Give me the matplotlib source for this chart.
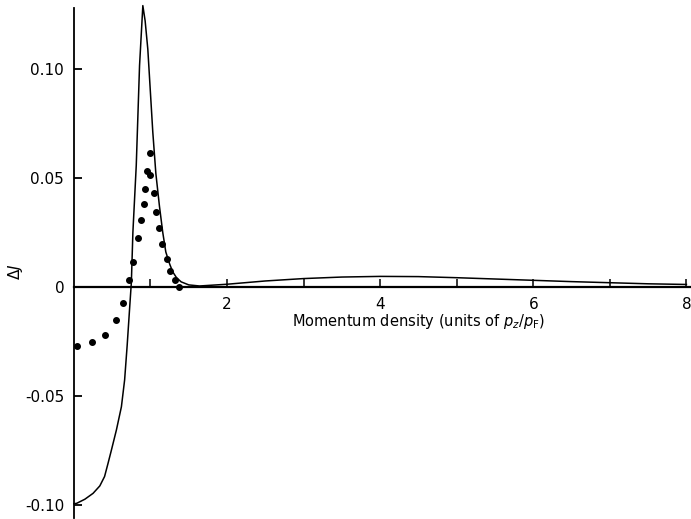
import numpy as np
import matplotlib
matplotlib.use('Agg')
import matplotlib.pyplot as plt

# solid curve (theory)
curve_x = [0.0, 0.035, 0.143, 0.25, 0.338, 0.40, 0.445, 0.49, 0.555, 0.62,
           0.662, 0.695, 0.727, 0.75, 0.77, 0.814, 0.857, 0.90, 0.93, 0.965,
           1.03, 1.07, 1.117, 1.16, 1.2, 1.25, 1.29, 1.34, 1.4, 1.5, 1.64,
           2.0, 2.5, 3.0, 3.5, 4.0, 4.5, 5.0, 5.5, 6.0, 6.5, 7.0, 7.5, 8.0]
curve_y = [-0.0995, -0.0993, -0.0974, -0.0947, -0.0913, -0.087, -0.081,
           -0.0748, -0.0656, -0.055, -0.0427, -0.027, -0.010, 0.002, 0.025,
           0.0557, 0.1015, 0.129, 0.122, 0.109, 0.071, 0.052, 0.037, 0.025,
           0.016, 0.0105, 0.0069, 0.0042, 0.0023, 0.0009, 0.0004, 0.0012,
           0.0027, 0.0038, 0.0045, 0.0048, 0.0047, 0.0042, 0.0036, 0.0030,
           0.0024, 0.0019, 0.0014, 0.0011]

# dots (experiment)
dot_x = [0.043, 0.238, 0.40, 0.55, 0.64, 0.72, 0.77, 0.836, 0.87, 0.91, 0.93,
         0.952, 0.987, 1.0, 1.04, 1.07, 1.11, 1.15, 1.21, 1.25, 1.32, 1.37]
dot_y = [-0.027, -0.0254, -0.022, -0.0152, -0.0075, 0.003, 0.0115, 0.0222,
         0.0305, 0.038, 0.045, 0.053, 0.0615, 0.0515, 0.043, 0.0345, 0.027,
         0.0197, 0.0127, 0.0073, 0.0032, 0.0]

yticks = [-0.10, -0.05, 0, 0.05, 0.10]
ytick_labels = ['-0.10', '-0.05', '0', '0.05', '0.10']
xticks = [2, 4, 6, 8]

plt.rcParams['font.family'] = ['DejaVu Sans']

fig = plt.figure(figsize=(6.91, 5.19), dpi=100)
ax = fig.add_axes([0.107, 0.002, 0.893, 0.983])

ax.plot(curve_x, curve_y, color='black', lw=1.1, clip_on=False)
ax.plot(dot_x, dot_y, 'o', color='black', ms=4, clip_on=False)

ax.set_xlim(0, 8.06)
ax.set_ylim(-0.106, 0.128)

ax.spines['top'].set_visible(False)
ax.spines['right'].set_visible(False)
ax.spines['bottom'].set_position(('data', 0))
ax.spines['bottom'].set_linewidth(1.6)
ax.spines['left'].set_linewidth(1.3)

ax.set_xticks(xticks)
ax.set_xticklabels([str(t) for t in xticks])
ax.set_xticks([1, 3, 5, 7], minor=True)
ax.set_yticks(yticks)
ax.set_yticklabels(ytick_labels)

ax.tick_params(axis='x', which='both', direction='in', length=6, width=1.1,
               pad=7, labelsize=11)
ax.tick_params(axis='y', direction='in', length=6, width=1.3, pad=7,
               labelsize=11)
# hide the tick at zero on the y axis (it sits on the x axis line)
ax.yaxis.get_major_ticks()[2].tick1line.set_visible(False)

ax.text(4.5, -0.016, r'Momentum density (units of $p_z/p_{\rm F}$)',
        ha='center', va='center', fontsize=10.5)
fig.text(0.022, 1 - 272 / 519, r'$\Delta J$', rotation=90, ha='center',
         va='center', fontsize=11)

fig.savefig('out.png', dpi=100)
